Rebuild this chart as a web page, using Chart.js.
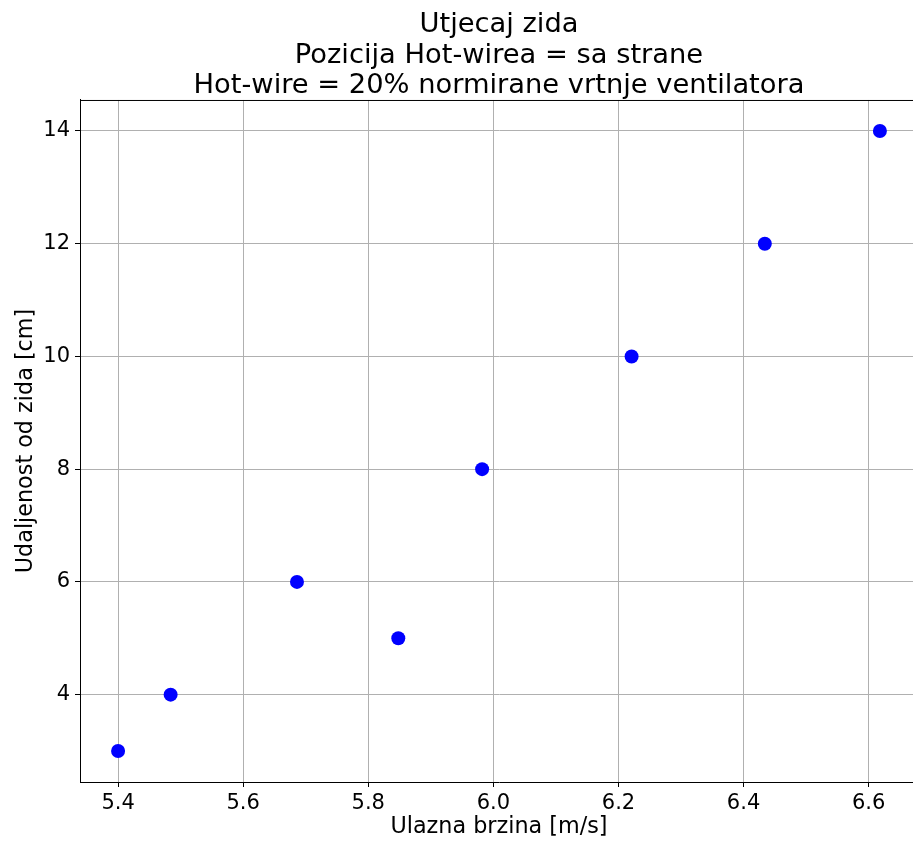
<!DOCTYPE html>
<html>
<head>
<meta charset="utf-8">
<script src="https://cdn.jsdelivr.net/npm/chart.js@4"></script>
<style>
    html, body { margin: 0; padding: 0; overflow: hidden; background: #fff; }
    canvas { display: block; }
</style>
</head>
<body>
<canvas id="chart" width="925" height="843"></canvas>
<script>
// measured points
const speeds = [5.40, 5.484, 5.686, 5.848, 5.982, 6.221, 6.434, 6.618];
const distances = [3, 4, 6, 5, 8, 10, 12, 14];

const xTicks = [5.4, 5.6, 5.8, 6.0, 6.2, 6.4, 6.6];
const yTicks = [4, 6, 8, 10, 12, 14];

const titleLines = ['Utjecaj zida', 'Pozicija Hot-wirea = sa strane', 'Hot-wire = 20% normirane vrtnje ventilatora'];
const xLabel = 'Ulazna brzina [m/s]';
const yLabel = 'Udaljenost od zida [cm]';

// matplotlib style 5% margins
function padRange(values) {
    const lo = Math.min(...values), hi = Math.max(...values);
    const m = (hi - lo) * 0.05;
    return [lo - m, hi + m];
}
const [xMin, xMax] = padRange(speeds);
const [yMin, yMax] = padRange(distances);

const tickFont = { family: 'DejaVu Sans', size: 21 };
const labelFont = { family: 'DejaVu Sans', size: 22.3 };

// top and right spines
const frame = {
    id: 'frame',
    afterDraw(chart) {
        const { ctx, chartArea: a } = chart;
        ctx.save();
        ctx.strokeStyle = '#000';
        ctx.lineWidth = 1;
        ctx.beginPath();
        ctx.moveTo(a.left, a.top + 0.5);
        ctx.lineTo(a.right, a.top + 0.5);
        ctx.moveTo(a.right - 0.5, a.top);
        ctx.lineTo(a.right - 0.5, a.bottom);
        ctx.stroke();
        ctx.restore();
    }
};

new Chart(document.getElementById('chart'), {
    type: 'scatter',
    data: {
        datasets: [{
            data: speeds.map((s, i) => ({ x: s, y: distances[i] })),
            pointRadius: 7,
            pointHoverRadius: 7,
            pointBackgroundColor: '#0000ff',
            pointBorderWidth: 0
        }]
    },
    options: {
        responsive: false,
        animation: false,
        layout: { padding: { top: 0, right: 6, left: 0, bottom: 0 } },
        plugins: {
            legend: { display: false },
            tooltip: { enabled: false },
            title: {
                display: true,
                text: titleLines,
                fullSize: false,
                color: '#000',
                font: { family: 'DejaVu Sans', size: 27.3, weight: 'normal', lineHeight: 1.117 },
                padding: { top: 10, bottom: -1.5 }
            }
        },
        scales: {
            x: {
                type: 'linear',
                min: xMin,
                max: xMax,
                afterBuildTicks: (axis) => { axis.ticks = xTicks.map(v => ({ value: v })); },
                afterFit: (scale) => { scale.height = 61; },
                grid: { color: '#b0b0b0', lineWidth: 1, tickColor: '#000', tickLength: 5 },
                border: { color: '#000', width: 1 },
                ticks: {
                    color: '#000',
                    font: tickFont,
                    padding: 4,
                    maxRotation: 0,
                    callback: (v) => v.toFixed(1)
                },
                title: { display: true, text: xLabel, color: '#000', font: labelFont, padding: { top: 0, bottom: 2 } }
            },
            y: {
                type: 'linear',
                min: yMin,
                max: yMax,
                afterBuildTicks: (axis) => { axis.ticks = yTicks.map(v => ({ value: v })); },
                afterFit: (scale) => { scale.width = 80; },
                grid: { color: '#b0b0b0', lineWidth: 1, tickColor: '#000', tickLength: 5 },
                border: { color: '#000', width: 1 },
                ticks: {
                    color: '#000',
                    font: tickFont,
                    padding: 5,
                    callback: (v) => String(v)
                },
                title: { display: true, text: yLabel, color: '#000', font: labelFont, padding: { top: 13, bottom: 0 } }
            }
        }
    },
    plugins: [frame]
});
</script>
</body>
</html>
